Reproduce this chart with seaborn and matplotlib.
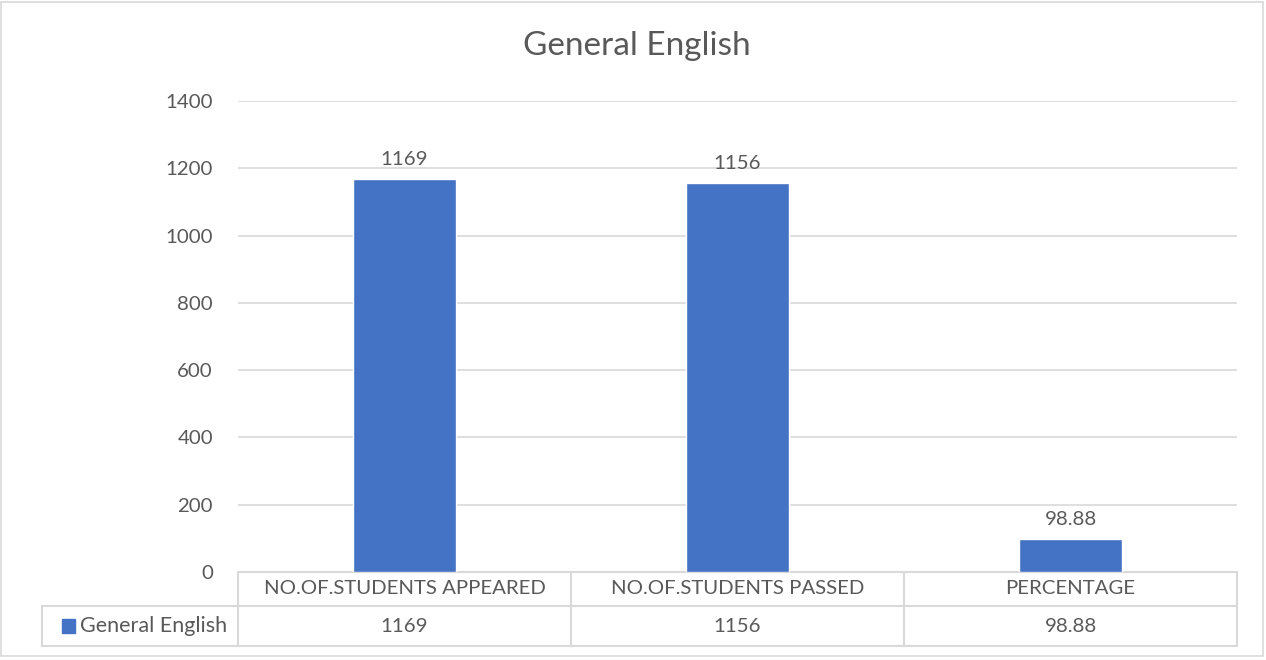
import seaborn as sns
import matplotlib.pyplot as plt
import pandas as pd
from matplotlib.patches import Rectangle
from matplotlib.lines import Line2D

categories = ["NO.OF.STUDENTS APPEARED", "NO.OF.STUDENTS PASSED", "PERCENTAGE"]
values = [1169, 1156, 98.88]
value_labels = ["1169", "1156", "98.88"]
series_name = "General English"

sns.set_style("white")
plt.rcParams['font.family'] = ['Lato', 'DejaVu Sans']

text_col = "#595959"
grid_col = "#d9d9d9"
bar_col = "#4472C4"
fs = 14.7

fig = plt.figure(figsize=(12.66, 6.6), dpi=100)
ax = fig.add_axes([238 / 1266, 1 - 572 / 660, 999 / 1266, 471 / 660])

df = pd.DataFrame({"cat": categories, "val": values})
sns.barplot(data=df, x="cat", y="val", color=bar_col, width=0.31, ax=ax,
            saturation=1, zorder=3)

ax.set_ylim(0, 1400)
ax.set_xlim(-0.5, 2.5)
ax.set_yticks(range(0, 1401, 200))
ax.yaxis.grid(True, color=grid_col, linewidth=1.2, zorder=0)
ax.tick_params(axis="y", length=0, pad=18, labelsize=fs, labelcolor=text_col)
ax.set_xticks([])
ax.set_xlabel("")
ax.set_ylabel("")
for s in ax.spines.values():
    s.set_visible(False)

for i, (v, lab) in enumerate(zip(values, value_labels)):
    ax.annotate(lab, (i, v), xytext=(0, 8), textcoords="offset points",
                ha="center", va="bottom", fontsize=fs, color=text_col)

fig.text(637 / 1266, 1 - 46 / 660, "General English", ha="center", va="center",
         fontsize=24, color=text_col)

# data table below the axes
tr = ax.transAxes
y0, y1, y2 = 0.0, -34 / 471, -74 / 471
xl = -196 / 999
lkw = dict(color=grid_col, linewidth=1.5, transform=tr, clip_on=False)
for y in (y0, y1, y2):
    x_start = 0 if y == y0 else xl
    ax.add_line(Line2D([x_start, 1], [y, y], **lkw))
for x in (0, 1 / 3, 2 / 3, 1):
    ax.add_line(Line2D([x, x], [y0, y2], **lkw))
ax.add_line(Line2D([xl, xl], [y1, y2], **lkw))

for i, (c, lab) in enumerate(zip(categories, value_labels)):
    xc = (i + 0.5) / 3
    ax.text(xc, (y0 + y1) / 2, c, transform=tr, ha="center", va="center",
            fontsize=fs, color=text_col)
    ax.text(xc, (y1 + y2) / 2, lab, transform=tr, ha="center", va="center",
            fontsize=fs, color=text_col)

ax.add_patch(Rectangle((-176 / 999, (y1 + y2) / 2 - 7 / 471), 13 / 999, 14 / 471,
                       transform=tr, color=bar_col, clip_on=False))
ax.text(-158 / 999, (y1 + y2) / 2, series_name, transform=tr, ha="left",
        va="center", fontsize=15.5, color=text_col)

# chart border
fig.add_artist(Rectangle((1 / 1266, 4 / 660), 1262 / 1266, 654 / 660,
                         transform=fig.transFigure, fill=False,
                         edgecolor=grid_col, linewidth=1.2))

plt.savefig("out.png", dpi=100)
